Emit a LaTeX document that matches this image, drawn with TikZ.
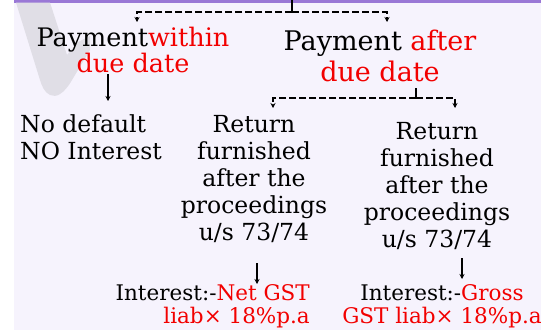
\documentclass[tikz,border=0pt]{standalone}
\usepackage{fontspec}
\setmainfont{DejaVu Serif}
\usetikzlibrary{arrows.meta}
\definecolor{bgc}{HTML}{F6F3FD}
\definecolor{barc}{HTML}{9A78D6}
\definecolor{wmc}{HTML}{E0DEE6}
\definecolor{redc}{HTML}{F20000}
\tikzset{
  txt/.style={inner sep=0pt,anchor=base,text=black},
  fA/.style={font=\fontsize{25.5}{26}\selectfont},
  fB/.style={font=\fontsize{27}{31}\selectfont},
  fC/.style={font=\fontsize{23.5}{27}\selectfont},
  fD/.style={font=\fontsize{21.5}{23}\selectfont},
  tick/.style={line width=1.2pt,draw=black},
  dline/.style={line width=1.2pt,draw=black,dash pattern=on 7pt off 3pt,-{Stealth[length=5pt,width=5pt]}},
  sarrow/.style={line width=1.2pt,draw=black,-{Stealth[length=5pt,width=5pt]}}
}
\begin{document}
\begin{tikzpicture}[x=1pt,y=-1pt]
\useasboundingbox (0,0) rectangle (541,330);
\fill[white] (0,0) rectangle (541,330);
\fill[bgc] (14,0) rectangle (541,330);
\fill[barc] (14,0) rectangle (541,2.5);
% watermark
\fill[wmc] (16,2.5) -- (50,2.5) -- (67,55) -- (78,42) -- (90,36) -- (90,50) -- (72,80)
  .. controls (64,94) and (56,98) .. (50,95) .. controls (44,92) and (42,86) .. (40,80) -- cycle;
% top texts (anchored at baseline of last line)
\node[txt,fA,align=center] (pl) at (133,72) {Payment\textcolor{redc}{within}\\\textcolor{redc}{due date}};
\node[txt,fB,align=center] (pa) at (380,81) {Payment \textcolor{redc}{after}\\\textcolor{redc}{due date}};
% middle texts
\node[txt,fC,align=left,anchor=base west] (nd) at (20,159) {No default\\NO Interest};
\node[txt,fC,align=center] (r1) at (254,240) {Return\\furnished\\after the\\proceedings\\u/s 73/74};
\node[txt,fC,align=center] (r2) at (437,247) {Return\\furnished\\after the\\proceedings\\u/s 73/74};
% bottom texts
\node[txt,fD,align=right,anchor=base east] (i1) at (310,323) {Interest:-\textcolor{redc}{Net GST}\\\textcolor{redc}{liab× 18\%p.a}};
\node[txt,fD,align=center] (i2) at (442,323) {Interest:-\textcolor{redc}{Gross}\\\textcolor{redc}{GST liab× 18\%p.a}};
% connector points
\coordinate (t0) at (292,0);
\coordinate (t1) at (292,12);
\coordinate (tl) at (137,22);
\coordinate (tr) at (387,22);
\coordinate (m0) at (416,88);
\coordinate (m1) at (416,98);
\coordinate (ml) at (273,108);
\coordinate (mr) at (455,108);
\coordinate (l0) at (108,74);
\coordinate (l1) at (108,101);
\coordinate (b0) at (257,263);
\coordinate (b1) at (257,284);
\coordinate (c0) at (462,258);
\coordinate (c1) at (462,279);
% connectors
\draw[tick] (t0) -- (t1);
\draw[dline] (t1) -| (tl);
\draw[dline] (t1) -| (tr);
\draw[tick] (m0) -- (m1);
\draw[dline] (m1) -| (ml);
\draw[dline] (m1) -| (mr);
\draw[sarrow] (l0) -- (l1);
\draw[sarrow] (b0) -- (b1);
\draw[sarrow] (c0) -- (c1);
\end{tikzpicture}
\end{document}
